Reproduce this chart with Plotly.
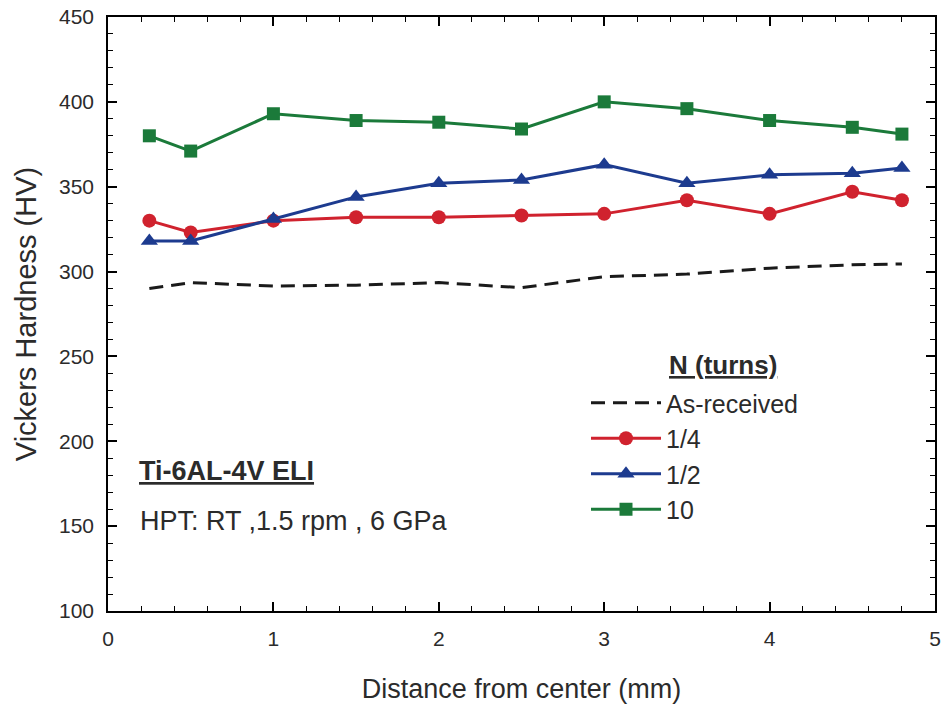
import plotly.graph_objects as go

distance = [0.25, 0.5, 1, 1.5, 2, 2.5, 3, 3.5, 4, 4.5, 4.8]
as_received = [290, 293.5, 291.5, 292, 293.5, 290.5, 297, 298.5, 302, 304, 304.5]
quarter = [330, 323, 330, 332, 332, 333, 334, 342, 334, 347, 342]
half = [318, 318, 331, 344, 352, 354, 363, 352, 357, 358, 361]
ten = [380, 371, 393, 389, 388, 384, 400, 396, 389, 385, 381]

FONT = "Liberation Sans, Arial, sans-serif"
TXT = "#2b2b2b"

L, R, T, B = 108, 7, 17, 97
PW, PH = 942 - L - R, 708 - T - B


def px(x):
    return (x - L) / PW


def py(y):
    return (708 - B - y) / PH


fig = go.Figure()
fig.add_trace(go.Scatter(x=distance, y=as_received, mode="lines", name="As-received",
                         line=dict(color="#1a1a1a", width=3, dash="14px,8px"), legendgroup="a"))
fig.add_trace(go.Scatter(x=distance, y=quarter, mode="lines+markers", name="1/4",
                         line=dict(color="#d0222e", width=3),
                         marker=dict(symbol="circle", size=14, color="#d0222e"), legendgroup="b"))
fig.add_trace(go.Scatter(x=distance, y=half, mode="lines+markers", name="1/2",
                         line=dict(color="#1d3b8f", width=3),
                         marker=dict(symbol="triangle-up", size=15, color="#1d3b8f"), legendgroup="c"))
fig.add_trace(go.Scatter(x=distance, y=ten, mode="lines+markers", name="10",
                         line=dict(color="#1b7a3a", width=3),
                         marker=dict(symbol="square", size=13, color="#1b7a3a"), legendgroup="d"))

fig.update_layout(
    width=942, height=708,
    margin=dict(l=L, r=R, t=T, b=B),
    paper_bgcolor="white", plot_bgcolor="white",
    font=dict(family=FONT, size=21, color=TXT),
    showlegend=True,
    legend=dict(x=px(586), y=py(380), xanchor="left", yanchor="top",
                font=dict(size=25, color=TXT), tracegroupgap=0,
                bgcolor="rgba(0,0,0,0)", itemwidth=70),
    annotations=[
        dict(text="<b><u>N (turns)</u></b>", xref="paper", yref="paper",
             x=px(667), y=py(365), xanchor="left", yanchor="middle",
             showarrow=False, font=dict(size=26, color=TXT)),
        dict(text="<b><u>Ti-6AL-4V ELI</u></b>", xref="paper", yref="paper",
             x=px(137), y=py(471), xanchor="left", yanchor="middle",
             showarrow=False, font=dict(size=27, color=TXT)),
        dict(text="HPT: RT ,1.5 rpm , 6 GPa", xref="paper", yref="paper",
             x=px(138), y=py(521), xanchor="left", yanchor="middle",
             showarrow=False, font=dict(size=27, color=TXT)),
    ],
)
fig.update_xaxes(
    range=[0, 5], tickvals=[0, 1, 2, 3, 4, 5], ticks="inside", ticklen=9, tickwidth=1.5,
    minor=dict(dtick=0.2, ticks="inside", ticklen=5, tickcolor="black", tickwidth=1.2),
    showline=True, linecolor="black", linewidth=1.5, mirror="allticks",
    showgrid=False, zeroline=False, tickcolor="black", automargin=False,
    ticklabelstandoff=8,
    title=dict(text="Distance from center (mm)", font=dict(size=27, color=TXT), standoff=30),
)
fig.update_yaxes(
    range=[100, 450], tickvals=[100, 150, 200, 250, 300, 350, 400, 450], ticks="inside",
    ticklen=9, tickwidth=1.5,
    minor=dict(dtick=10, ticks="inside", ticklen=5, tickcolor="black", tickwidth=1.2),
    showline=True, linecolor="black", linewidth=1.5, mirror="allticks",
    showgrid=False, zeroline=False, tickcolor="black", automargin=False,
    ticklabelstandoff=8,
    title=dict(text="Vickers Hardness (HV)", font=dict(size=29, color=TXT), standoff=14),
)

fig.write_html("out.html", config={"displayModeBar": False},
               post_script="document.body.style.margin='0';")
